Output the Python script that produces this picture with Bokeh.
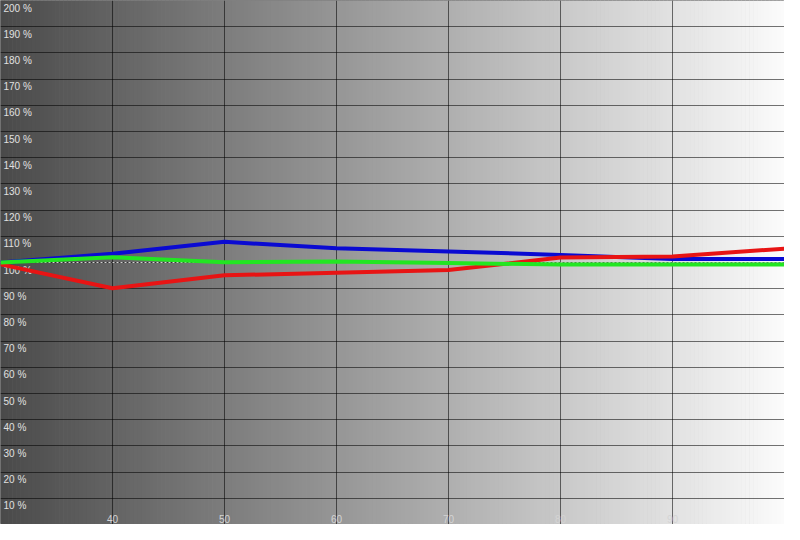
import numpy as np
from bokeh.plotting import figure
from bokeh.models import Range1d, FixedTicker, Span, ColumnDataSource
from bokeh.core.properties import value
from bokeh.embed import file_html
from bokeh.resources import INLINE

# ---- data ----
levels = [30, 40, 50, 60, 70, 80, 90, 100]
red = [99.3, 90.2, 95.1, 96.1, 97.1, 101.9, 102.3, 105.3]
green = [100.0, 102.0, 100.1, 100.4, 99.8, 99.2, 99.2, 99.2]
blue = [100.0, 103.3, 107.9, 105.4, 104.2, 102.9, 101.3, 101.3]

x_tick_values = [40, 50, 60, 70, 80, 90]
x_tick_labels = ["40", "50", "60", "70", "80", "90"]
y_tick_values = [200, 190, 180, 170, 160, 150, 140, 130, 120, 110,
                 100, 90, 80, 70, 60, 50, 40, 30, 20, 10]
y_tick_labels = ["200 %", "190 %", "180 %", "170 %", "160 %", "150 %", "140 %",
                 "130 %", "120 %", "110 %", "100 %", "90 %", "80 %", "70 %",
                 "60 %", "50 %", "40 %", "30 %", "20 %", "10 %"]
grid_x = [30, 40, 50, 60, 70, 80, 90, 100]
grid_y = [0, 10, 20, 30, 40, 50, 60, 70, 80, 90, 100, 110, 120, 130, 140,
          150, 160, 170, 180, 190, 200]

X0, X1 = 30, 100
Y0, Y1 = 0, 200

p = figure(width=784, height=524, x_range=Range1d(X0, X1), y_range=Range1d(Y0, Y1),
           output_backend="svg", toolbar_location=None, min_border=0)
p.axis.visible = False
p.outline_line_color = "#808080"
p.background_fill_color = "#a0a0a0"

# ---- background gradient (dark left -> white right) ----
n = 200
edges = np.linspace(X0, X1, n + 1)
t = (np.arange(n) + 0.5) / n
g = (74 + (251 - 74) * t).round().astype(int)
cols = ["#%02x%02x%02x" % (v, v, v) for v in g]
bg = ColumnDataSource(dict(left=edges[:-1], right=edges[1:] + 0.05, color=cols))
p.quad(left="left", right="right", bottom=Y0, top=Y1, fill_color="color",
       line_color=None, source=bg, level="image")

# ---- grid ----
p.xgrid.ticker = FixedTicker(ticks=grid_x)
p.ygrid.ticker = FixedTicker(ticks=grid_y)
for gr in (p.xgrid, p.ygrid):
    gr.grid_line_color = "black"
    gr.grid_line_alpha = 0.55
    gr.grid_line_width = 1

ref = Span(location=100, dimension="width", line_color="white", line_dash="2 2",
           line_width=1, line_alpha=0.8, level="underlay")
p.add_layout(ref)

# ---- tick labels (inside the plot) ----
ysrc = ColumnDataSource(dict(x=[X0] * len(y_tick_values), y=y_tick_values, t=y_tick_labels))
p.text(x="x", y="y", text="t", source=ysrc, x_offset=3, y_offset=2,
       text_baseline="top", text_align="left", text_font_size="10px",
       text_color="#e0e0e0", text_font=value("Liberation Sans"))

xsrc = ColumnDataSource(dict(x=x_tick_values, y=[Y0] * len(x_tick_values), t=x_tick_labels))
p.text(x="x", y="y", text="t", source=xsrc, x_offset=0, y_offset=-2,
       text_baseline="bottom", text_align="center", text_font_size="10px",
       text_color="#d4d4d4", text_font=value("Liberation Sans"))

# ---- series ----
p.line(levels, blue, line_color="#0a0ad2", line_width=4)
p.line(levels, red, line_color="#e81414", line_width=4)
p.line(levels, green, line_color="#22e622", line_width=4)

open("out.html", "w").write(file_html(p, INLINE))
